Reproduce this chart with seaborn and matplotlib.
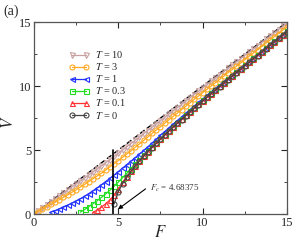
import numpy as np
import seaborn as sns
from matplotlib import pyplot as plt

# driving force grid (step 0.25)
F_grid = [0.0, 0.25, 0.5, 0.75, 1.0, 1.25, 1.5, 1.75, 2.0, 2.25, 2.5, 2.75,
          3.0, 3.25, 3.5, 3.75, 4.0, 4.25, 4.5, 4.75, 5.0, 5.25, 5.5, 5.75,
          6.0, 6.25, 6.5, 6.75, 7.0, 7.25, 7.5, 7.75, 8.0, 8.25, 8.5, 8.75,
          9.0, 9.25, 9.5, 9.75, 10.0, 10.25, 10.5, 10.75, 11.0, 11.25, 11.5, 11.75,
          12.0, 12.25, 12.5, 12.75, 13.0, 13.25, 13.5, 13.75, 14.0, 14.25, 14.5, 14.75, 15.0]

# velocities, each list ends at F = 15 and starts where the curve leaves zero
V_T10 = [0.00, 0.23, 0.47, 0.70, 0.94, 1.17, 1.41, 1.64, 1.88, 2.11, 2.35, 2.58,
         2.81, 3.05, 3.29, 3.53, 3.77, 4.01, 4.25, 4.50, 4.75, 5.00, 5.26, 5.51,
         5.77, 6.02, 6.28, 6.53, 6.79, 7.04, 7.30, 7.55, 7.81, 8.06, 8.32, 8.57,
         8.83, 9.08, 9.34, 9.59, 9.85, 10.10, 10.36, 10.61, 10.87, 11.12, 11.38, 11.63,
         11.89, 12.14, 12.39, 12.64, 12.90, 13.15, 13.40, 13.65, 13.91, 14.16, 14.41, 14.66, 14.91]
V_T3 = [0.00, 0.19, 0.38, 0.56, 0.75, 0.94, 1.13, 1.31, 1.50, 1.70, 1.90, 2.11,
        2.32, 2.54, 2.76, 2.98, 3.20, 3.44, 3.69, 3.93, 4.18, 4.43, 4.69, 4.94,
        5.22, 5.48, 5.75, 6.02, 6.30, 6.57, 6.83, 7.10, 7.37, 7.63, 7.90, 8.16,
        8.43, 8.69, 8.96, 9.22, 9.48, 9.74, 10.00, 10.26, 10.52, 10.78, 11.04, 11.29,
        11.55, 11.81, 12.06, 12.32, 12.58, 12.84, 13.09, 13.35, 13.60, 13.86, 14.11, 14.37, 14.62]
V_T1 = [0.15, 0.27, 0.40, 0.54, 0.69, 0.85, 1.02, 1.20,
        1.39, 1.60, 1.82, 2.05, 2.29, 2.54, 2.79, 3.05, 3.32, 3.59, 3.86, 4.13,
        4.41, 4.69, 4.97, 5.25, 5.55, 5.86, 6.16, 6.45, 6.74, 7.03, 7.31, 7.60,
        7.88, 8.16, 8.44, 8.72, 8.99, 9.27, 9.54, 9.81, 10.08, 10.35, 10.62, 10.89,
        11.16, 11.43, 11.69, 11.96, 12.22, 12.48, 12.74, 13.01, 13.27, 13.53, 13.79, 14.06, 14.32]
V_T03 = [0.15,
         0.36, 0.58, 0.81, 1.05, 1.30, 1.57, 1.86, 2.17, 2.50, 2.84, 3.18, 3.53,
         3.88, 4.25, 4.60, 4.93, 5.26, 5.58, 5.90, 6.21, 6.52, 6.84, 7.13, 7.43,
         7.73, 8.02, 8.31, 8.59, 8.88, 9.16, 9.44, 9.71, 9.98, 10.26, 10.53, 10.81,
         11.08, 11.35, 11.62, 11.89, 12.16, 12.42, 12.69, 12.96, 13.22, 13.49, 13.75, 14.02, 14.28]
V_T01 = [0.12, 0.32, 0.55, 0.80, 1.10, 1.47, 1.95, 2.47, 2.93, 3.36,
         3.78, 4.17, 4.54, 4.89, 5.23, 5.55, 5.88, 6.19, 6.51, 6.81, 7.11, 7.41,
         7.71, 8.00, 8.29, 8.57, 8.86, 9.14, 9.42, 9.70, 9.97, 10.25, 10.52, 10.80,
         11.07, 11.34, 11.61, 11.88, 12.15, 12.41, 12.68, 12.95, 13.21, 13.48, 13.74, 14.01, 14.27]
V_T0 = [0.79, 1.75, 2.37, 2.88, 3.33,
        3.75, 4.14, 4.51, 4.86, 5.20, 5.53, 5.86, 6.17, 6.49, 6.79, 7.09, 7.39,
        7.69, 7.98, 8.27, 8.55, 8.84, 9.12, 9.40, 9.68, 9.95, 10.23, 10.50, 10.78,
        11.05, 11.32, 11.59, 11.86, 12.13, 12.39, 12.66, 12.93, 13.19, 13.46, 13.72, 13.99, 14.25]

labels = ['10', '3', '1', '0.3', '0.1', '0']
series = [V_T10, V_T3, V_T1, V_T03, V_T01, V_T0]
colors = ['#c8a0a0', '#ffaa22', '#2233ff', '#22dd22', '#ff3333', '#444444']
markers = ['v', 'o', '<', 's', '^', 'o']
Fc = 4.68375

sns.set_style('ticks')
plt.rcParams['font.family'] = ['Liberation Serif', 'DejaVu Serif']
plt.rcParams['mathtext.fontset'] = 'stix'

fig = plt.figure(figsize=(2.95, 2.43), dpi=100)
ax = fig.add_axes([0.115, 0.119, 0.858, 0.790])

# free-particle line V = F
sns.lineplot(x=[0, 15], y=[0, 15], color='black', linestyle=(0, (4, 2)), lw=1.0, ax=ax)

for V, lab, c, m in zip(series, labels, colors, markers):
    x = F_grid[len(F_grid) - len(V):]
    sns.lineplot(x=x, y=V, color=c, marker=m, markersize=3.6, markerfacecolor='none',
                 markeredgecolor=c, markeredgewidth=0.8, lw=0.9,
                 label=r'$T$ = ' + lab, ax=ax)

ax.plot([Fc, Fc], [0, 5], color='black', lw=1.2)
ax.annotate('', xy=(4.85, 0.25), xytext=(6.75, 2.1),
            arrowprops=dict(arrowstyle='-|>', color='black', lw=0.8, mutation_scale=6))
ax.text(6.9, 2.0, r'$F_c$ = 4.68375', fontsize=6.5, color='#333333', va='center')

ax.set_xlim(0, 15)
ax.set_ylim(0, 15)
ax.set_xticks([0, 5, 10, 15])
ax.set_yticks([0, 5, 10, 15])
ax.set_xticks([2.5, 7.5, 12.5], minor=True)
ax.set_yticks([2.5, 7.5, 12.5], minor=True)
ax.tick_params(which='both', direction='in', top=True, right=True, labelsize=9, pad=2)
ax.tick_params(which='major', length=4)
ax.tick_params(which='minor', length=2)
for s in ax.spines.values():
    s.set_linewidth(0.9)
    s.set_color('#555555')

ax.set_xlabel(r'$F$', fontsize=12)
ax.set_ylabel(r'$V$', fontsize=12)
ax.xaxis.set_label_coords(0.5, -0.055)
ax.yaxis.set_label_coords(-0.065, 0.48)

ax.legend(loc='upper left', bbox_to_anchor=(0.12, 0.88), frameon=False, fontsize=7.5,
          numpoints=2, handlelength=2.0, labelspacing=0.1, handletextpad=0.5,
          borderaxespad=0)

fig.text(0.01, 0.955, '(a)', fontsize=10, va='center')

plt.savefig('out.png', dpi=100)
plt.close()
